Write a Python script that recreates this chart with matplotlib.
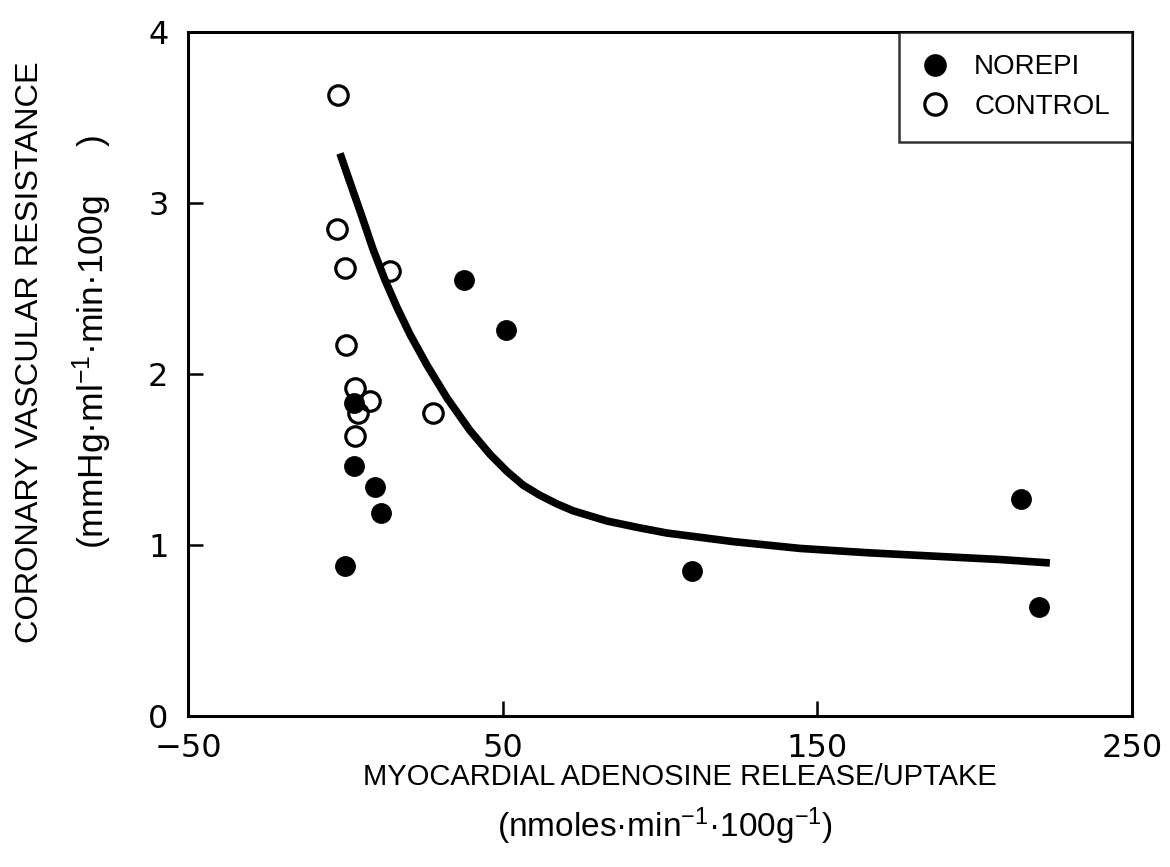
import matplotlib
matplotlib.use("Agg")
import matplotlib.pyplot as plt

# Control hearts: adenosine release (nmol/min/100g) vs coronary resistance
control_x = [-2.3, -2.6, -0.1, 14.2, 0.2, 3.1, 7.8, 4.0, 3.1, 27.9]
control_y = [3.63, 2.85, 2.62, 2.60, 2.17, 1.92, 1.84, 1.77, 1.64, 1.77]

# Norepinephrine-infused hearts
norepi_x = [37.7, 51.1, 2.8, 2.8, 9.4, 11.3, -0.1, 110.2, 214.7, 220.4]
norepi_y = [2.55, 2.26, 1.83, 1.46, 1.34, 1.19, 0.88, 0.85, 1.27, 0.64]

# Fitted relation drawn through both groups
fit_x = [-1.7, 1.5, 5.3, 8.8, 12.6, 16.4, 20.6, 26.0, 32.3, 39.6, 46.0,
         51.4, 56.5, 61.9, 67.3, 72.4, 83.2, 93.6, 102.2, 123.2, 144.5,
         165.8, 186.8, 208.1, 223.9]
fit_y = [3.29, 3.12, 2.92, 2.73, 2.55, 2.39, 2.23, 2.05, 1.86, 1.67, 1.53,
         1.43, 1.35, 1.29, 1.24, 1.20, 1.14, 1.10, 1.07, 1.02, 0.98,
         0.955, 0.935, 0.915, 0.895]

x_ticks = [-50, 50, 150, 250]
x_ticklabels = ['−50', '50', '150', '250']
y_ticks = [0, 1, 2, 3, 4]

plt.rcParams['font.family'] = ['DejaVu Sans']
plt.rcParams['mathtext.default'] = 'regular'
SANS = ['Liberation Sans', 'DejaVu Sans']

fig = plt.figure(figsize=(11.7, 8.67), dpi=100)
ax = fig.add_axes([188 / 1170, 1 - 716 / 867, (1132 - 188) / 1170, (716 - 32) / 867])

ax.plot(fit_x, fit_y, color='black', lw=5.5, solid_capstyle='butt',
        solid_joinstyle='round', zorder=2)
ax.plot(norepi_x, norepi_y, 'o', ms=13, mfc='black', mec='black', mew=2,
        label='NOREPI', zorder=3)
ax.plot(control_x, control_y, 'o', ms=14, mfc='none', mec='black', mew=2.3,
        label='CONTROL', zorder=3)

ax.set_xlim(-50, 250)
ax.set_ylim(0, 4)
ax.set_xticks(x_ticks)
ax.set_yticks(y_ticks)
ax.set_xticklabels(x_ticklabels)
ax.set_yticklabels([str(v) for v in y_ticks])
ax.tick_params(axis='both', direction='in', length=11, width=1.8,
               labelsize=23, color='black')
ax.tick_params(axis='x', pad=12)
ax.tick_params(axis='y', pad=14)

for s in ax.spines.values():
    s.set_linewidth(2.2)
    s.set_color('black')

leg = ax.legend(loc='upper right', borderaxespad=0,
                prop={'family': SANS, 'size': 20},
                frameon=True, fancybox=False, handletextpad=0.9,
                borderpad=0.8, labelspacing=0.5, handlelength=1.0,
                markerscale=1.1)
leg.get_frame().set_edgecolor('black')
leg.get_frame().set_linewidth(1.8)

# Axis titles, two lines each
fig.text(30 / 1170, 1 - 352 / 867, 'CORONARY VASCULAR RESISTANCE',
         rotation=90, ha='center', va='center', fontsize=23.4, family=SANS)
fig.text(92 / 1170, 1 - 342 / 867,
         '(mmHg·ml$^{-1}$·min·100g     )',
         rotation=90, ha='center', va='center', fontsize=25.5, family=SANS)
fig.text(680 / 1170, 1 - 777 / 867, 'MYOCARDIAL ADENOSINE RELEASE/UPTAKE',
         ha='center', va='center', fontsize=21, family=SANS)
fig.text(665 / 1170, 1 - 826 / 867,
         '(nmoles·min$^{-1}$·100g$^{-1}$)',
         ha='center', va='center', fontsize=24, family=SANS)

fig.savefig('out.png', dpi=100, facecolor='white')
